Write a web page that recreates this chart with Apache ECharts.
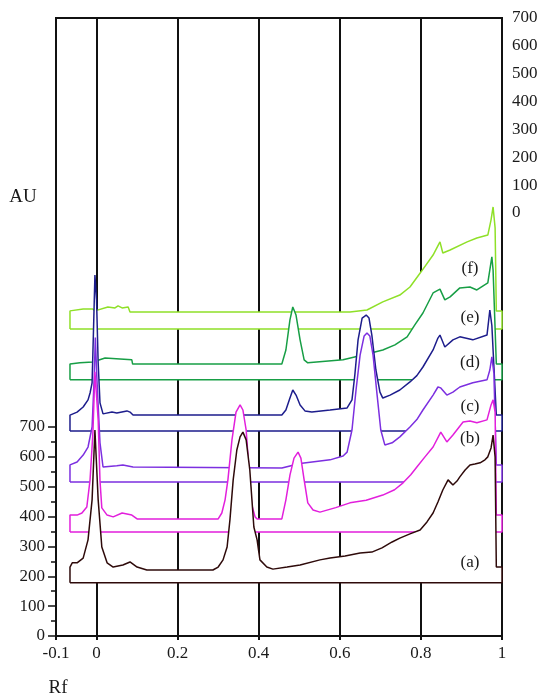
<!DOCTYPE html>
<html><head><meta charset="utf-8">
<script src="https://cdn.jsdelivr.net/npm/echarts@6/dist/echarts.min.js"></script>
<style>html,body{margin:0;padding:0;background:#fff}#c{width:542px;height:698px}</style>
</head><body><div id="c"></div>
<script>
// ---- data ----
const xTicks = [-0.1, 0, 0.2, 0.4, 0.6, 0.8, 1];
const gridRf = [0, 0.2, 0.4, 0.6, 0.8];
const leftTickMax = 700;      // left scale 0..700 (AU)
const rightTickMax = 700;     // right scale 0..700 (AU)
const traceNames = ['(a)', '(b)', '(c)', '(d)', '(e)', '(f)'];
const traceColors = ['#2e0a0a', '#e21fdc', '#7c2fe0', '#1d1d8c', '#179e45', '#8fe028'];
const traceBase = [178, 348, 516, 687, 858, 1028];
const traceLevel = [231, 405, 573, 740, 911, 1089];
const startRf = -0.0655, dropRf = 0.986, endRf = 1.0;

const sigA = [[-0.0655,231],[-0.060,245],[-0.048,245],[-0.033,261],[-0.021,322],[-0.011,456],[-0.004,690],[0.004,456],[0.013,298],[0.026,245],[0.041,231],[0.065,238],[0.0825,248],[0.100,231],[0.124,221],[0.287,221],[0.300,231],[0.312,255],[0.322,298],[0.329,389],[0.337,523],[0.346,623],[0.354,667],[0.361,683],[0.369,657],[0.378,556],[0.388,365],[0.396,322],[0.403,255],[0.420,231],[0.435,224],[0.470,231],[0.502,238],[0.551,255],[0.576,261],[0.613,268],[0.650,278],[0.679,281],[0.704,295],[0.729,315],[0.748,328],[0.773,342],[0.798,355],[0.815,382],[0.830,412],[0.842,449],[0.854,489],[0.867,523],[0.879,506],[0.889,519],[0.896,533],[0.909,556],[0.921,573],[0.933,576],[0.946,580],[0.958,590],[0.965,600],[0.973,630],[0.978,673],[0.983,600]];
const sigB = [[-0.0655,405],[-0.048,405],[-0.036,412],[-0.024,432],[-0.016,523],[-0.009,680],[-0.004,885],[-0.001,885],[0.004,724],[0.0085,520],[0.013,429],[0.026,405],[0.041,399],[0.063,412],[0.087,405],[0.100,392],[0.300,392],[0.309,412],[0.317,456],[0.324,523],[0.334,657],[0.344,750],[0.354,774],[0.361,757],[0.369,690],[0.376,556],[0.383,439],[0.391,399],[0.396,392],[0.457,392],[0.467,456],[0.477,539],[0.487,596],[0.497,616],[0.504,596],[0.512,523],[0.521,446],[0.534,422],[0.551,415],[0.590,430],[0.625,446],[0.665,455],[0.706,472],[0.735,490],[0.756,513],[0.775,540],[0.790,566],[0.810,600],[0.830,633],[0.849,683],[0.864,650],[0.879,673],[0.904,717],[0.921,720],[0.938,714],[0.963,724],[0.973,774],[0.978,791],[0.983,750]];
const sigC = [[-0.0655,573],[-0.048,583],[-0.033,606],[-0.021,633],[-0.011,700],[-0.006,858],[-0.003,1000],[0.001,858],[0.0085,647],[0.016,566],[0.050,570],[0.065,573],[0.090,566],[0.457,563],[0.502,578],[0.576,590],[0.608,603],[0.618,616],[0.630,690],[0.640,824],[0.650,941],[0.660,1005],[0.667,1015],[0.674,1005],[0.682,941],[0.692,807],[0.701,690],[0.711,640],[0.729,647],[0.748,667],[0.773,700],[0.790,725],[0.805,757],[0.830,807],[0.842,834],[0.849,831],[0.864,807],[0.879,817],[0.896,834],[0.928,848],[0.963,858],[0.970,891],[0.975,935],[0.980,880]];
const sigD = [[-0.0655,740],[-0.048,750],[-0.033,767],[-0.021,791],[-0.016,814],[-0.011,848],[-0.0075,1025],[-0.004,1209],[0.000,1126],[0.004,915],[0.0085,781],[0.016,744],[0.038,750],[0.050,747],[0.075,754],[0.0825,750],[0.090,740],[0.457,740],[0.467,757],[0.477,797],[0.484,824],[0.492,807],[0.502,774],[0.514,754],[0.531,750],[0.576,757],[0.618,764],[0.630,791],[0.637,874],[0.645,992],[0.655,1065],[0.665,1075],[0.672,1065],[0.679,1008],[0.689,891],[0.699,817],[0.706,797],[0.724,807],[0.748,824],[0.773,851],[0.790,872],[0.805,901],[0.830,958],[0.842,998],[0.847,1008],[0.859,968],[0.879,992],[0.896,1002],[0.928,992],[0.963,1008],[0.970,1092],[0.975,1040]];
const sigE = [[-0.0655,911],[-0.041,915],[-0.009,918],[0.021,931],[0.058,928],[0.087,925],[0.089,911],[0.457,911],[0.467,958],[0.477,1059],[0.484,1102],[0.492,1075],[0.502,992],[0.512,925],[0.521,915],[0.608,925],[0.657,941],[0.706,958],[0.736,975],[0.766,1002],[0.785,1042],[0.805,1082],[0.830,1149],[0.847,1162],[0.859,1126],[0.872,1136],[0.896,1166],[0.921,1169],[0.938,1159],[0.965,1183],[0.970,1226],[0.975,1270],[0.978,1226]];
const sigF = [[-0.0655,1089],[-0.033,1095],[-0.009,1095],[-0.004,1089],[0.028,1102],[0.0455,1099],[0.053,1106],[0.063,1099],[0.078,1102],[0.0825,1085],[0.625,1085],[0.667,1092],[0.706,1119],[0.748,1142],[0.773,1169],[0.800,1219],[0.830,1276],[0.847,1320],[0.854,1283],[0.872,1293],[0.914,1320],[0.938,1333],[0.965,1343],[0.973,1394],[0.978,1437],[0.983,1367]];
const signals = [sigA, sigB, sigC, sigD, sigE, sigF];
const labelY = [563, 439, 407, 363, 318, 269];

// ---- chart ----
const FONT = '"Liberation Serif", "Times New Roman", serif';
const INK = '#1a1a1a';

function loop(i) {
  const b = traceBase[i], l = traceLevel[i];
  return [[startRf, b]].concat(signals[i], [[dropRf, l], [endRf, l], [endRf, b], [startRf, b]]);
}

const traceSeries = signals.map((s, i) => ({
  type: 'line', name: traceNames[i], xAxisIndex: 0, yAxisIndex: 0,
  data: loop(i), showSymbol: false, symbol: 'none', silent: true, animation: false,
  z: 7 - i,
  lineStyle: { color: traceColors[i], width: 1.5 },
  areaStyle: { color: '#ffffff', opacity: 1, origin: traceBase[i] }
}));

const gridSeries = {
  type: 'line', xAxisIndex: 0, yAxisIndex: 0, data: [], silent: true, animation: false, z: 1,
  markLine: {
    z: 1, silent: true, symbol: 'none', animation: false,
    label: { show: false },
    lineStyle: { color: '#111', width: 2, type: 'solid' },
    data: gridRf.map(v => ({ xAxis: v }))
  }
};

const labelGraphics = traceNames.map((t, i) => ({
  type: 'text', x: 470, y: labelY[i], z: 100,
  style: { text: t, font: '17px ' + FONT, fill: INK, align: 'center', verticalAlign: 'middle' }
}));

const option = {
  animation: false,
  backgroundColor: '#fff',
  grid: [
    { left: 56, right: 40, top: 18, bottom: 62, show: true, borderColor: '#111', borderWidth: 2, backgroundColor: 'transparent' },
    { left: 56, top: 427, height: 209, width: 2 },
    { right: 40, top: 18, height: 195, width: 2 }
  ],
  xAxis: [
    { gridIndex: 0, type: 'value', min: -0.1, max: 1,
      axisLine: { show: true, lineStyle: { color: '#111', width: 2 } },
      axisTick: { show: true, customValues: xTicks, length: 4, lineStyle: { color: '#111', width: 2 } },
      axisLabel: { customValues: xTicks, formatter: v => String(v), color: INK, fontFamily: FONT, fontSize: 17, margin: 9 },
      splitLine: { show: false } },
    { gridIndex: 1, type: 'value', show: false, min: 0, max: 1 },
    { gridIndex: 2, type: 'value', show: false, min: 0, max: 1 }
  ],
  yAxis: [
    { gridIndex: 0, type: 'value', min: 0, max: 2070, show: false, splitLine: { show: false } },
    { gridIndex: 1, type: 'value', min: 0, max: leftTickMax, interval: 100, position: 'left',
      axisLine: { show: true, lineStyle: { color: '#111', width: 2 } },
      axisTick: { show: true, length: 8, lineStyle: { color: '#111', width: 1.5 } },
      minorTick: { show: true, splitNumber: 2, length: 5, lineStyle: { color: '#111', width: 1.5 } },
      axisLabel: { color: INK, fontFamily: FONT, fontSize: 17, margin: 11 },
      splitLine: { show: false } },
    { gridIndex: 2, type: 'value', min: 0, max: rightTickMax, interval: 100, position: 'right',
      axisLine: { show: false }, axisTick: { show: false },
      axisLabel: { color: INK, fontFamily: FONT, fontSize: 17, margin: 10 },
      splitLine: { show: false } }
  ],
  graphic: [
    { type: 'text', x: 23, y: 197, z: 100, style: { text: 'AU', font: '19px ' + FONT, fill: INK, align: 'center', verticalAlign: 'middle' } },
    { type: 'text', x: 58, y: 688, z: 100, style: { text: 'Rf', font: '19px ' + FONT, fill: INK, align: 'center', verticalAlign: 'middle' } }
  ].concat(labelGraphics),
  series: [gridSeries].concat(traceSeries)
};

const chart = echarts.init(document.getElementById('c'), null, { renderer: 'canvas' });
chart.setOption(option);
</script>
</body></html>
